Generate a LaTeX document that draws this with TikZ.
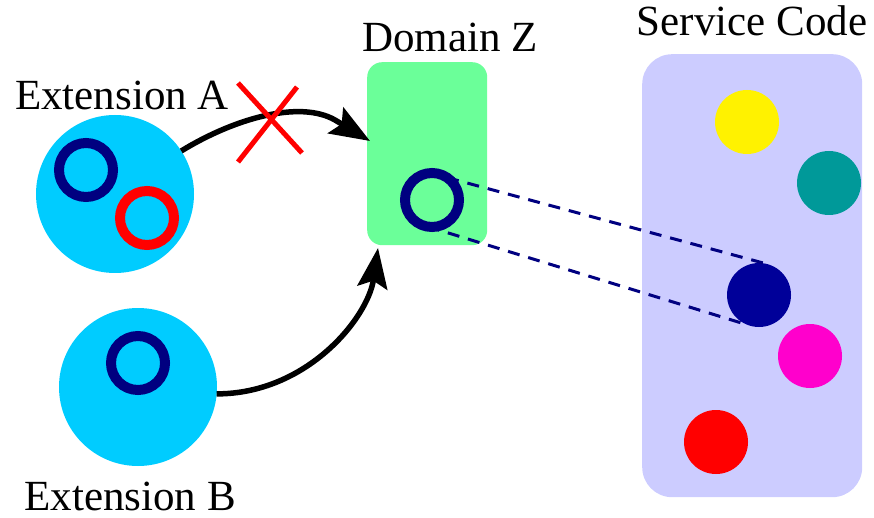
\documentclass[tikz,border=0pt]{standalone}
\usepackage{fontspec}
\setmainfont{Liberation Serif}
\usetikzlibrary{arrows.meta}
\definecolor{extblue}{HTML}{00CCFF}
\definecolor{ringnavy}{HTML}{000080}
\definecolor{domgreen}{HTML}{6BFF99}
\definecolor{svclav}{HTML}{CCCCFF}
\definecolor{svcteal}{HTML}{009999}
\definecolor{svcnavy}{HTML}{000099}
\definecolor{svcmag}{HTML}{FF00CC}
\tikzset{
  ext/.style={circle, fill=extblue, minimum size=158pt, inner sep=0pt, outer sep=0pt},
  ring/.style={circle, draw=#1, line width=10pt, minimum size=54pt, inner sep=0pt, outer sep=0pt},
  dot/.style={circle, fill=#1, minimum size=64pt, inner sep=0pt, outer sep=0pt},
  lbl/.style={font=\fontsize{43}{49}\selectfont, anchor=base, inner sep=0pt},
  flow/.style={line width=5.5pt, -{Stealth[length=40pt,width=30pt,inset=7pt]}},
  link/.style={draw=ringnavy, line width=3pt, dash pattern=on 12pt off 9pt},
}
\begin{document}
\begin{tikzpicture}[x=1pt,y=-1pt]
\useasboundingbox (0,0) rectangle (874,518);
% Service code panel
\node[fill=svclav, rounded corners=30pt, minimum width=220pt, minimum height=443pt, inner sep=0pt, anchor=north west] (svc) at (642,54) {};
\node[lbl] (svct) at (752,36) {Service Code};
\node[dot=yellow] (sy) at (747,122) {};
\node[dot=svcteal] (st) at (829,183) {};
\node[dot=svcnavy] (sn) at (759,295) {};
\node[dot=svcmag] (sm) at (810,356) {};
\node[dot=red] (sr) at (716,442) {};
% Domain Z
\node[fill=domgreen, rounded corners=15pt, minimum width=120pt, minimum height=183pt, inner sep=0pt, anchor=north west] (dz) at (367,62) {};
\node[lbl] (dzt) at (450,52) {Domain Z};
\node[ring=ringnavy] (rz) at (432,200) {};
% Extension A
\node[ext] (ea) at (115,194) {};
\node[lbl] (eat) at (122,110) {Extension A};
\node[ring=ringnavy] (ra1) at (86,170) {};
\node[ring=red] (ra2) at (147,218) {};
% Extension B
\node[ext] (eb) at (138,387) {};
\node[lbl] (ebt) at (130,510) {Extension B};
\node[ring=ringnavy] (rb) at (138,363) {};
% dashed links
\draw[link] (rz.56) -- (sn.76);
\draw[link] (rz.-99) -- (sn.-111);
% arrows
\coordinate (ab) at (335,120);
\coordinate (ta) at (370,141);
\coordinate (tb) at (378,248);
\draw[flow] (ea.33) .. controls (235,118) and (300,100) .. (ab) -- (ta);
\draw[flow] (eb.-5) .. controls +(90,0) and +(-10,70) .. (tb);
% red cross
\coordinate (x1) at (238,83);
\coordinate (x2) at (302,153);
\coordinate (x3) at (297,87);
\coordinate (x4) at (238,162);
\draw[red, line width=5pt] (x1) -- (x2);
\draw[red, line width=5pt] (x3) -- (x4);
\end{tikzpicture}
\end{document}
